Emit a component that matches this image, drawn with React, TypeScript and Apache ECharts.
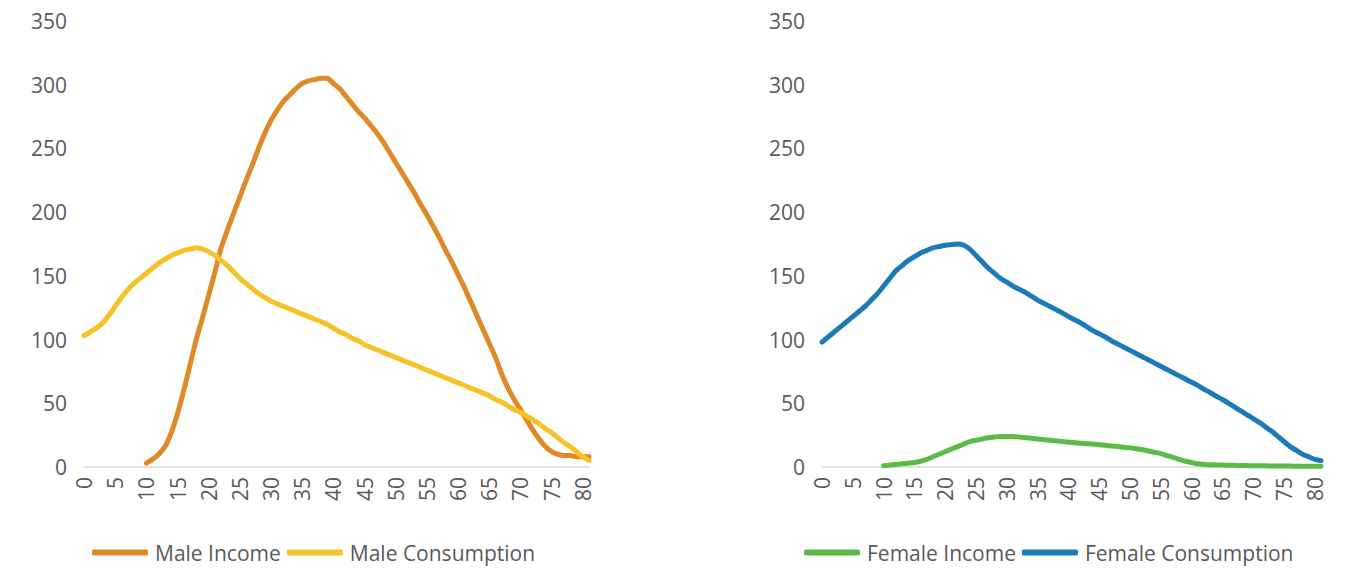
import React, { useEffect, useRef } from "react";
import * as echarts from "echarts";

const ages: string[] = Array.from({ length: 82 }, (_, i) => String(i));
const yTicks = [0, 50, 100, 150, 200, 250, 300, 350];

const maleIncome: (number | null)[] = [
  null, null, null, null, null, null, null, null, null, null,
  3, 6, 10, 16, 27, 42, 60, 80, 100, 117,
  135, 153, 172, 186, 199, 212, 225, 237, 250, 262,
  272, 280, 287, 292, 297, 301, 303, 304, 305, 305,
  301, 297, 291, 285, 279, 274, 268, 262, 255, 247,
  239, 231, 223, 215, 206, 198, 189, 180, 170, 161,
  151, 141, 130, 119, 108, 97, 86, 73, 62, 53,
  45, 37, 29, 22, 16, 12, 10, 9, 9, 8,
  8, 8,
];

const maleConsumption: number[] = [
  103, 106, 109, 113, 119, 126, 133, 139, 144, 148,
  152, 156, 160, 163, 166, 168, 170, 171, 172, 171,
  169, 166, 162, 158, 153, 148, 144, 140, 136, 133,
  130, 128, 126, 124, 122, 120, 118, 116, 114, 112,
  109, 106, 104, 101, 99, 96, 94, 92, 90, 88,
  86, 84, 82, 80, 78, 76, 74, 72, 70, 68,
  66, 64, 62, 60, 58, 56, 53, 51, 48, 45,
  43, 40, 37, 34, 30, 27, 23, 19, 16, 12,
  8, 5,
];

const femaleIncome: (number | null)[] = [
  null, null, null, null, null, null, null, null, null, null,
  1, 1.5, 2, 2.5, 3, 3.5, 4.5, 6, 8, 10,
  12, 14, 16, 18, 20, 21, 22, 23, 23.5, 24,
  24, 24, 23.5, 23, 22.5, 22, 21.5, 21, 20.5, 20,
  19.5, 19, 18.7, 18.3, 18, 17.5, 17, 16.5, 16, 15.5,
  15, 14.3, 13.5, 12.5, 11.5, 10.5, 9, 7.5, 6, 4.5,
  3.5, 2.5, 2, 1.8, 1.6, 1.5, 1.4, 1.3, 1.2, 1.1,
  1, 1, 0.9, 0.8, 0.8, 0.7, 0.7, 0.6, 0.6, 0.5,
  0.5, 0.5,
];

const femaleConsumption: number[] = [
  98, 102, 106, 110, 114, 118, 122, 126, 131, 136,
  142, 148, 154, 158, 162, 165, 168, 170, 172, 173,
  174, 174.5, 175, 174, 171, 166, 161, 156, 152, 148,
  145, 142, 139.5, 137, 134, 131, 128.5, 126, 123.5, 121,
  118, 115.5, 113, 110, 107, 104.5, 102, 99, 96.5, 94,
  91.5, 89, 86.5, 84, 81.5, 79, 76.5, 74, 71.5, 69,
  66.5, 64, 61, 58.5, 55.5, 53, 50, 47, 44, 41,
  38, 35, 31.5, 28, 24, 20, 16, 13, 10, 8,
  6, 5,
];

const COLORS = {
  maleIncome: "#DF8A27",
  maleConsumption: "#F5C228",
  femaleIncome: "#5CBB47",
  femaleConsumption: "#1B7BB8",
};

const FONT = "Open Sans";
const TEXT_COLOR = "#595959";

export default function App() {
  const ref = useRef<HTMLDivElement>(null);

  useEffect(() => {
    if (!ref.current) return;
    const chart = echarts.init(ref.current, undefined, { renderer: "svg" });

    const xAxisBase = {
      type: "category" as const,
      data: ages,
      boundaryGap: false,
      axisLine: { show: true, lineStyle: { color: "#D9D9D9", width: 1.5 } },
      axisTick: { show: false },
      axisLabel: {
        interval: 4,
        rotate: 90,
        margin: 10,
        color: TEXT_COLOR,
        fontFamily: FONT,
        fontSize: 21,
      },
    };
    const yAxisBase = {
      type: "value" as const,
      min: yTicks[0],
      max: yTicks[yTicks.length - 1],
      interval: 50,
      axisLine: { show: false },
      axisTick: { show: false },
      splitLine: { show: false },
      axisLabel: {
        margin: 17,
        color: TEXT_COLOR,
        fontFamily: FONT,
        fontSize: 21,
      },
    };

    const lineSeries = (
      name: string,
      data: (number | null)[],
      color: string,
      idx: number
    ) => ({
      name,
      type: "line" as const,
      xAxisIndex: idx,
      yAxisIndex: idx,
      data,
      showSymbol: false,
      symbol: "none",
      smooth: 0.2,
      connectNulls: false,
      lineStyle: { color, width: 5, cap: "round", join: "round" },
      itemStyle: { color },
    });

    const legendBase = {
      bottom: 1,
      icon: "roundRect",
      itemWidth: 56,
      itemHeight: 6,
      itemGap: 6,
      textStyle: {
        color: TEXT_COLOR,
        fontFamily: FONT,
        fontSize: 21,
        padding: [0, 0, 0, 2],
      },
    };

    chart.setOption({
      animation: false,
      backgroundColor: "#ffffff",
      textStyle: { fontFamily: FONT },
      grid: [
        { left: 84, right: 1345 - 589, top: 21, bottom: 569 - 467 },
        { left: 822, right: 1345 - 1321, top: 21, bottom: 569 - 467 },
      ],
      xAxis: [
        { ...xAxisBase, gridIndex: 0 },
        { ...xAxisBase, gridIndex: 1 },
      ],
      yAxis: [
        { ...yAxisBase, gridIndex: 0 },
        { ...yAxisBase, gridIndex: 1 },
      ],
      legend: [
        { ...legendBase, left: 87, data: ["Male Income", "Male Consumption"] },
        { ...legendBase, left: 799, data: ["Female Income", "Female Consumption"] },
      ],
      series: [
        lineSeries("Male Income", maleIncome, COLORS.maleIncome, 0),
        lineSeries("Male Consumption", maleConsumption, COLORS.maleConsumption, 0),
        lineSeries("Female Income", femaleIncome, COLORS.femaleIncome, 1),
        lineSeries("Female Consumption", femaleConsumption, COLORS.femaleConsumption, 1),
      ],
    });

    return () => chart.dispose();
  }, []);

  return (
    <div
      ref={ref}
      style={{ position: "fixed", left: 0, top: 0, width: 1345, height: 569 }}
    />
  );
}
